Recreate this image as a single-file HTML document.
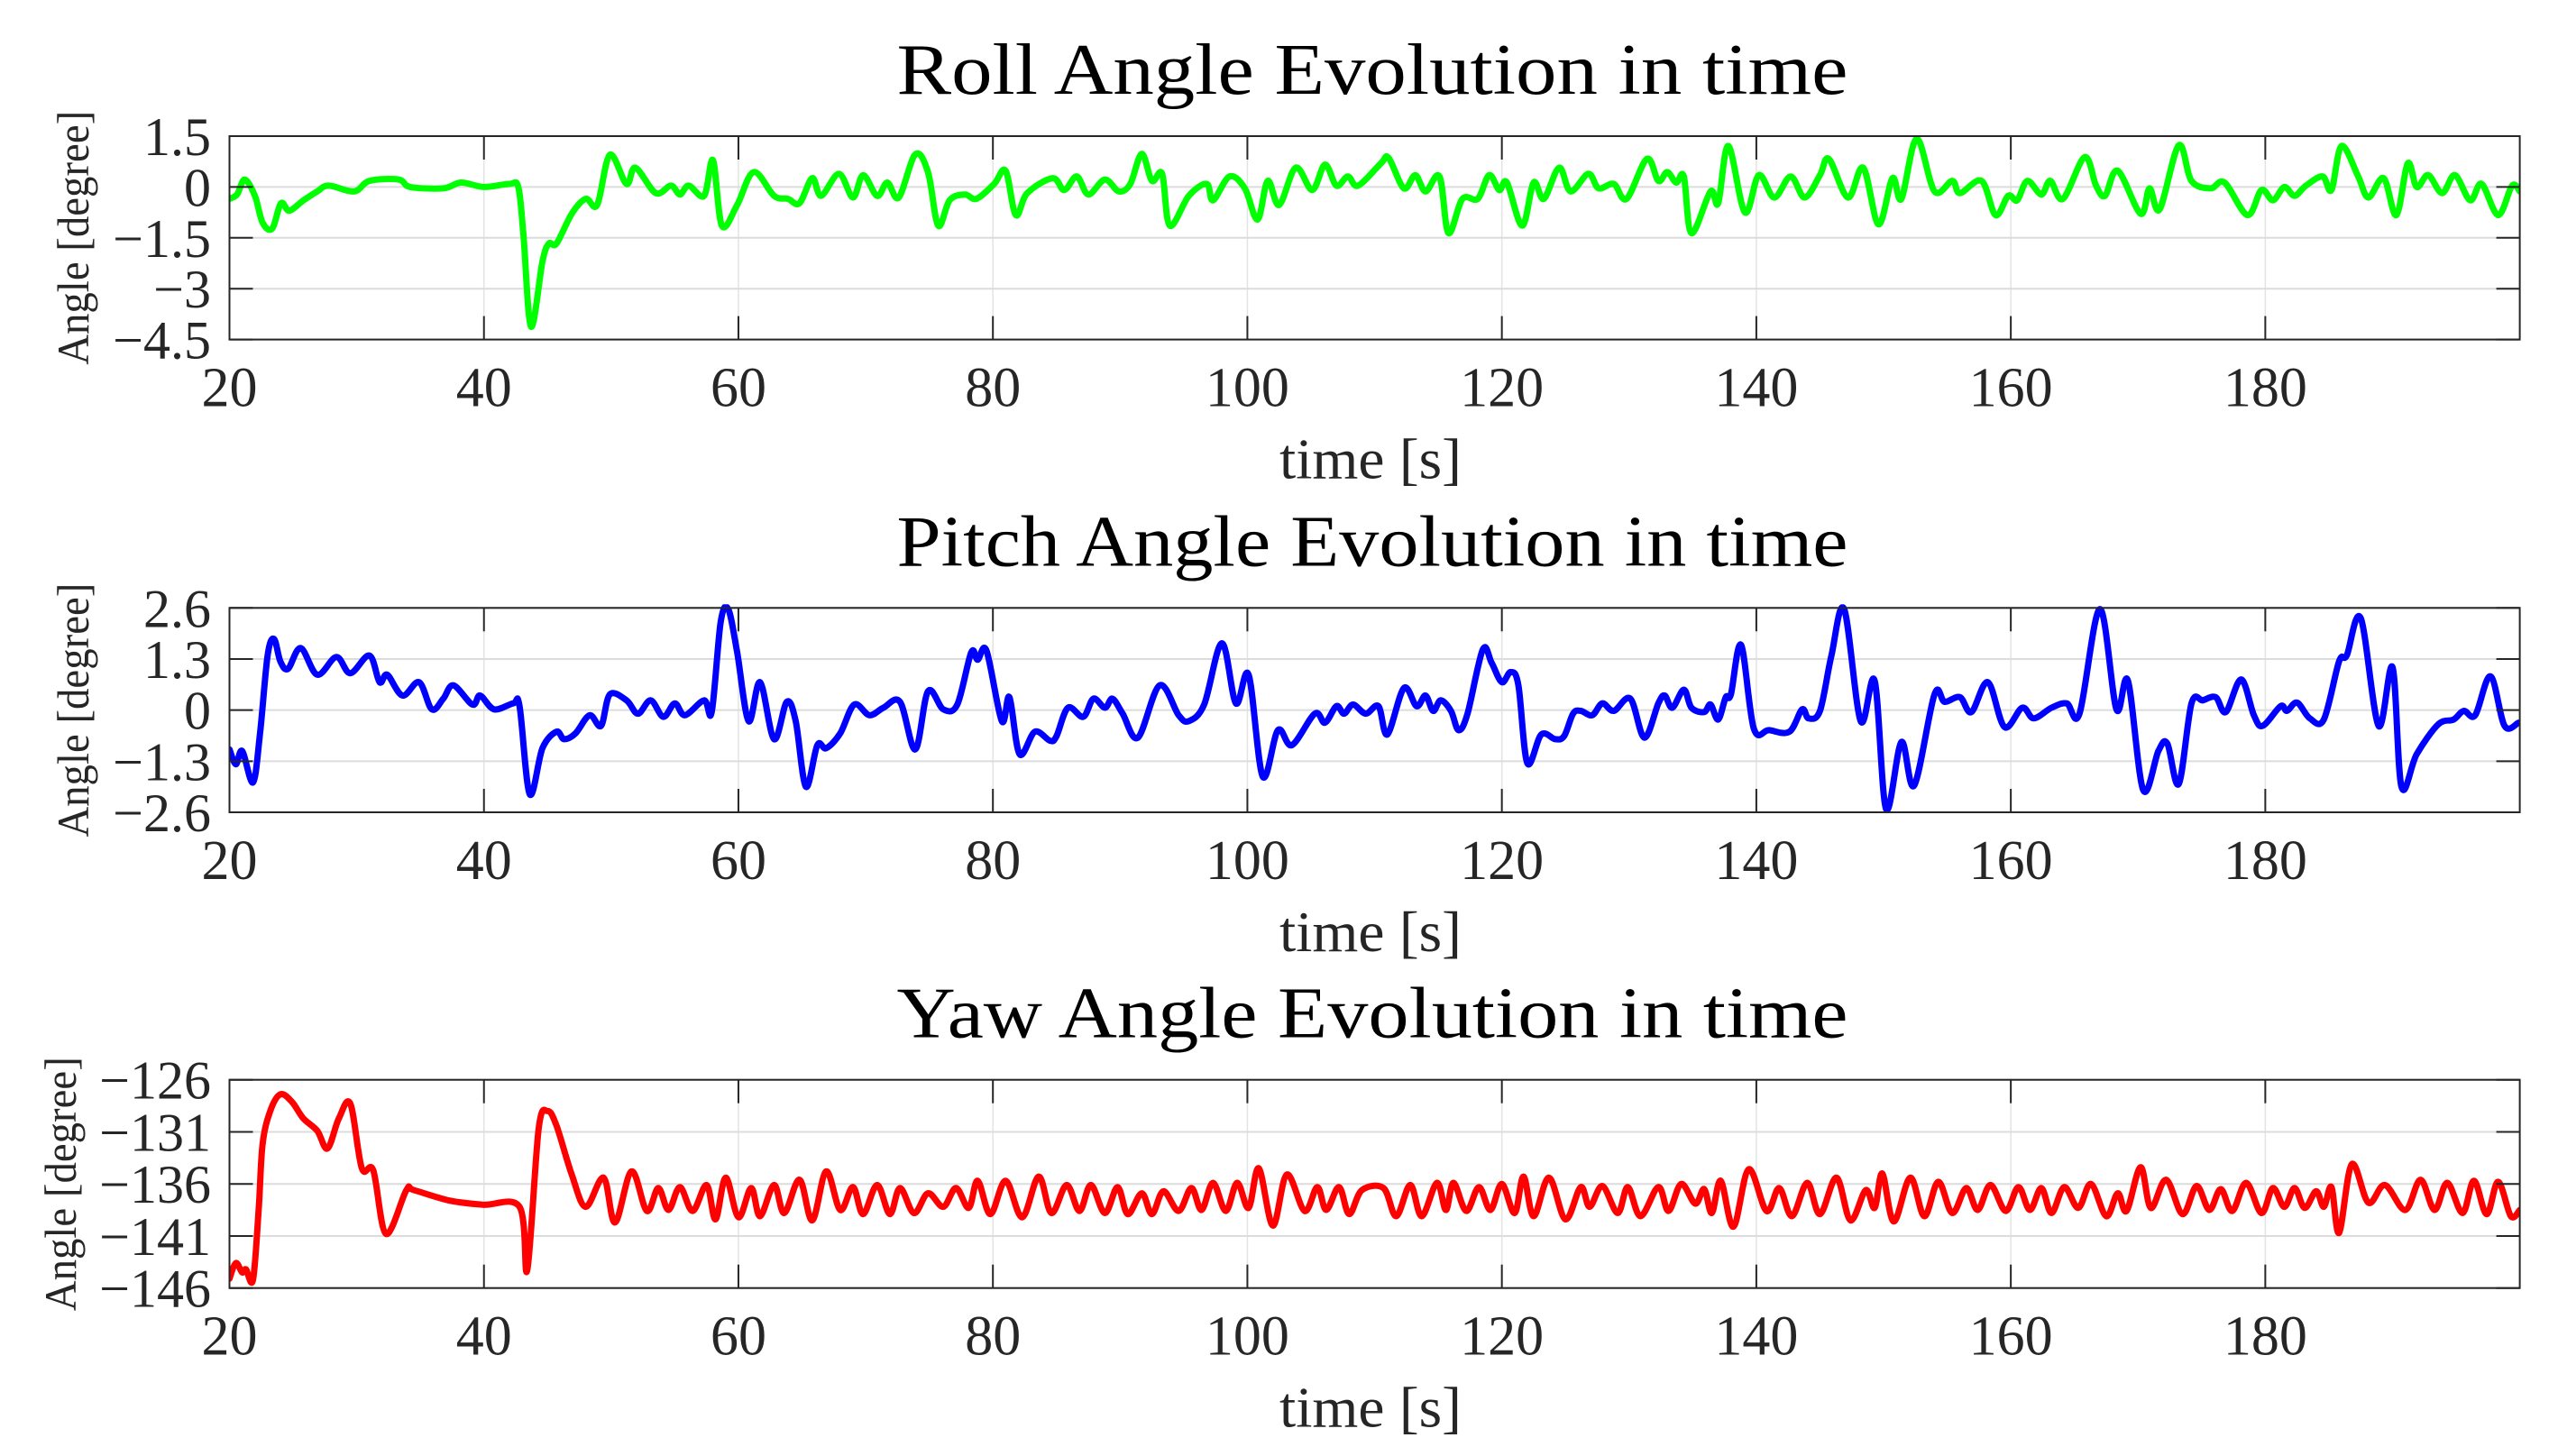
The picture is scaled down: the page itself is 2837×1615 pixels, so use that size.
<!DOCTYPE html>
<html><head><meta charset="utf-8"><style>
html,body{margin:0;padding:0;background:#fff;}
svg{display:block;}
text{font-family:"Liberation Serif",serif;fill:#262626;}
</style></head><body>
<svg id="fig" width="2837" height="1615" viewBox="0 0 2837 1615" xmlns="http://www.w3.org/2000/svg"></svg>
<script>
// ---- data ----
const rollT=[20,20.6,21.2,22,22.6,23.35,24.05,24.7,25.8,26.9,27.8,29.8,31,33.3,34.2,36.8,38.2,40,42,42.7,43.1,43.7,44.6,45.1,45.7,46.9,48,48.9,49.9,51.2,51.9,53.5,54.7,55.4,56.1,57.3,58,58.7,59.9,61.2,62.8,63.9,64.8,65.8,66.5,67.9,69,69.8,70.9,71.7,72.6,73.9,74.9,75.7,76.6,77.8,78.7,80.1,81,81.8,82.7,84.7,85.6,86.6,87.5,88.8,89.9,90.8,91.7,92.5,93.3,93.9,95.4,96.8,97.3,98.6,99.8,100.8,101.6,102.5,103.8,105.1,106.1,107,107.9,108.7,110.5,111.1,112.3,113.2,114,115.1,115.8,116.9,118.1,119,119.8,120.4,121.6,122.5,123.3,124.5,125.4,126.8,127.6,128.8,129.8,131.4,132.3,133,133.7,134.3,134.9,136.4,137,137.8,139.1,140.2,141.4,142.7,143.8,145,145.7,147.2,148.4,149.6,150.7,151.4,152.6,154,155.4,156,157.7,158.8,159.8,160.5,161.3,162.4,163.1,164.1,165.8,166.7,167.4,168.4,170.2,170.9,171.7,173.2,174.2,175.7,176.8,178.6,179.7,180.6,181.5,182.3,183.2,184.5,185.2,186,187.3,188.1,189.3,190.3,191.2,191.9,192.8,193.9,194.9,196.1,197,198.3,199.4,200];
const rollV=[-0.35,-0.22,0.22,-0.26,-1.05,-1.23,-0.48,-0.7,-0.4,-0.13,0.04,-0.13,0.18,0.22,0,-0.04,0.13,0,0.09,0,-1.4,-4.12,-2.2,-1.67,-1.67,-0.79,-0.35,-0.53,0.95,0.09,0.57,-0.18,0.04,-0.22,0.04,-0.26,0.79,-1.14,-0.53,0.44,-0.26,-0.35,-0.48,0.26,-0.26,0.39,-0.31,0.35,-0.26,0.13,-0.31,0.96,0.44,-1.14,-0.39,-0.22,-0.35,0.09,0.48,-0.83,-0.18,0.26,-0.09,0.31,-0.22,0.22,-0.13,0.09,0.98,0.18,0.39,-1.14,-0.26,0.09,-0.39,0.31,-0.04,-0.96,0.18,-0.53,0.57,-0.09,0.66,0.04,0.31,0.04,0.7,0.86,-0.04,0.35,-0.13,0.31,-1.36,-0.35,-0.35,0.35,-0.09,0.13,-1.14,0.13,-0.35,0.57,-0.13,0.39,-0.04,0.09,-0.35,0.83,0.18,0.44,0.13,0.31,-1.36,-0.13,-0.48,1.21,-0.75,0.35,-0.31,0.31,-0.31,0.35,0.83,-0.31,0.57,-1.1,0.26,-0.35,1.42,-0.13,0.18,-0.18,0.18,-0.83,-0.26,-0.39,0.18,-0.22,0.18,-0.35,0.88,0.04,-0.26,0.48,-0.79,-0.04,-0.66,1.23,0.18,-0.04,0.13,-0.83,-0.09,-0.39,0,-0.26,0.04,0.31,-0.09,1.21,0.31,-0.31,0.26,-0.83,0.7,0,0.35,-0.18,0.35,-0.39,0.09,-0.83,0.04,-0.13];
const pitchT=[20,20.5,21,21.85,22.4,23,23.5,24,24.6,25.6,26.9,28.4,29.5,31,31.8,32.4,33.6,34.9,35.9,36.8,37.6,39.1,39.7,40.8,42.3,42.8,43.6,44.6,45.7,46.3,47.2,48.3,49.2,49.9,51.2,52.1,53.1,54.1,55,55.8,57.3,57.9,58.6,59.2,59.9,60.8,61.7,62.8,63.8,64.5,65.3,66.2,66.9,68,69.1,70.3,71.4,72.7,73.9,74.9,76.1,77.2,78.3,78.8,79.5,80.7,81.3,82.1,83.3,84.5,85,85.9,87.1,87.9,88.8,89.4,90.2,91.4,93.1,94.6,95.4,96.6,98,99.1,100.1,101.2,102.4,103.5,105.3,106.1,107,107.6,108.3,109.3,110.3,111,112.3,113.3,114,114.6,115.2,116,116.6,117.3,118.5,119.2,120,120.7,121.3,122,123.1,124.2,124.9,125.6,126.2,127.1,127.9,128.8,130.1,131.2,132.3,132.8,133.4,134.3,134.9,135.9,136.4,137,137.6,138,138.8,139.8,141,142.6,143.6,144.1,145,145.9,146.9,148.2,149.3,150.2,151.4,152.4,154,154.8,156,156.9,158.2,159.5,160.9,161.8,163.2,164.4,165.4,167,168.3,169.2,170.4,171.6,172.3,173.2,174.2,175.1,176.1,176.9,178.1,179.1,179.8,181.2,181.7,182.5,183.5,184.6,185.8,186.4,187.5,188.9,190,190.7,191.9,193.6,194.8,195.6,196.5,197.7,198.8,199.9];
const pitchV=[-1.0,-1.38,-1.04,-1.84,-0.59,1.39,1.81,1.24,1.05,1.58,0.9,1.35,0.94,1.39,0.71,0.9,0.37,0.71,0.02,0.29,0.63,0.14,0.37,0.02,0.17,0.1,-2.14,-0.97,-0.55,-0.74,-0.59,-0.13,-0.4,0.4,0.25,-0.09,0.25,-0.17,0.17,-0.13,0.25,-0.05,2.23,2.57,1.47,-0.28,0.71,-0.74,0.21,-0.28,-1.95,-0.89,-0.97,-0.59,0.14,-0.13,0.06,0.21,-1.0,0.48,0.02,0.14,1.47,1.28,1.51,-0.28,0.33,-1.12,-0.55,-0.78,-0.66,0.06,-0.17,0.29,0.06,0.29,-0.09,-0.7,0.63,-0.13,-0.28,0.14,1.7,0.17,0.9,-1.69,-0.51,-0.89,-0.09,-0.32,0.1,-0.09,0.14,-0.09,0.1,-0.62,0.56,0.1,0.37,-0.02,0.25,-0.02,-0.51,-0.09,1.54,1.2,0.71,0.97,0.63,-1.35,-0.62,-0.74,-0.66,-0.09,-0.02,-0.13,0.17,-0.02,0.29,-0.7,0.17,0.37,0.06,0.52,0.06,-0.05,0.14,-0.24,0.33,0.4,1.66,-0.47,-0.51,-0.55,0.02,-0.21,-0.02,1.39,2.57,-0.28,0.75,-2.52,-0.81,-1.92,0.4,0.21,0.33,-0.05,0.71,-0.43,0.06,-0.21,0.06,0.17,-0.09,2.57,0.02,0.75,-2.03,-1.04,-0.85,-1.88,0.17,0.25,0.33,-0.05,0.78,-0.13,-0.4,0.1,-0.02,0.19,-0.21,-0.24,1.24,1.39,2.34,-0.4,1.09,-1.95,-1.12,-0.36,-0.24,-0.02,-0.13,0.86,-0.4,-0.32];
const yawT=[20,20.5,21,21.3,21.85,22.3,22.6,23.2,24,24.9,25.8,26.9,27.7,28.6,29.5,30.4,31.3,32.3,33.9,34.5,37.3,39.9,42.8,43.4,44.3,45,45.7,46.9,48,49.4,50.3,51.6,52.8,53.7,54.5,55.4,56.4,57.5,58.2,59,60,61,61.7,62.8,63.6,64.8,65.8,66.9,68,69,69.8,70.9,71.9,72.7,73.8,74.9,76.1,77.1,78.1,78.8,79.8,81,82.3,83.6,84.6,85.8,86.8,87.7,88.8,89.8,90.6,91.7,92.5,93.4,94.6,95.6,96.4,97.3,98.3,99.2,100.1,100.9,102,103.1,104.5,105.5,106.2,107.2,108,109,110.7,111.7,112.8,113.7,114.9,115.6,116.2,117.2,118.2,119.1,120,121,121.7,122.5,123.7,125,126.2,126.9,127.9,129.1,129.9,130.9,132.3,133.1,134.1,135.2,135.9,136.5,137.2,138.2,139.4,140.8,141.8,142.8,144,145,146.3,147.4,148.6,149.3,149.9,150.8,152.1,153.2,154.3,155.4,156.5,157.4,158.4,159.6,160.6,161.5,162.4,163.2,164.2,165.3,166.3,167.5,168.4,169.1,170.2,171,172.2,173.5,174.6,175.6,176.5,177.4,178.5,179.7,180.6,181.5,182.3,183.1,184,184.6,185.2,185.8,186.8,188.1,189.4,191,192.2,193.3,194.3,195.5,196.4,197.4,198.3,199.3,200];
const yawV=[-145.1,-143.6,-144.5,-144.2,-145.2,-138.3,-132.2,-129,-127.4,-128.1,-129.7,-130.9,-132.6,-129.7,-128.3,-134.5,-134.7,-140.8,-136.6,-136.6,-137.6,-138,-138.2,-144.3,-130.7,-129,-130.4,-135.1,-138.2,-135.4,-139.7,-134.8,-138.6,-136.4,-138.5,-136.3,-138.6,-136.1,-139.4,-135.4,-139.2,-136.4,-139.1,-136.1,-138.8,-135.6,-139.5,-134.8,-138.5,-136.3,-138.9,-136.1,-138.9,-136.4,-138.8,-136.9,-138.2,-136.4,-138.3,-135.7,-138.9,-135.7,-139.2,-135.3,-138.8,-136.1,-138.6,-136.1,-138.8,-136.3,-138.9,-136.9,-138.9,-136.7,-138.6,-136.4,-138.5,-135.9,-138.6,-135.9,-138.3,-134.5,-140,-135.1,-138.6,-136.3,-138.5,-136.3,-138.9,-136.6,-136.4,-139.1,-136.1,-139.1,-135.9,-138.5,-135.9,-138.6,-136.3,-138.5,-136,-138.8,-135.3,-139.1,-135.4,-139.4,-136.3,-138.2,-136.2,-138.8,-136.3,-139.1,-136.3,-138.6,-136,-137.9,-136.5,-138.8,-135.7,-140.1,-134.6,-138.6,-136.4,-139.1,-135.9,-138.9,-135.4,-139.5,-136.6,-138.3,-135,-139.6,-135.4,-139.1,-135.8,-138.8,-136.4,-138.5,-136.1,-138.6,-136.3,-138.5,-136.4,-138.8,-136.3,-138.3,-136,-139.1,-136.9,-138.6,-134.4,-138.3,-135.6,-138.9,-136.2,-138.5,-136.5,-138.6,-135.9,-138.8,-136.4,-138.2,-136.4,-138.3,-136.7,-138.2,-136.3,-140.7,-134.1,-137.8,-136.1,-138.5,-135.6,-138.5,-135.9,-138.8,-135.7,-138.9,-135.8,-139.1,-138.5];
const xTicks=[20,40,60,80,100,120,140,160,180];
const rollTicks=[1.5,0,-1.5,-3,-4.5];
const pitchTicks=[2.6,1.3,0,-1.3,-2.6];
const yawTicks=[-126,-131,-136,-141,-146];
const titles=["Roll Angle Evolution in time","Pitch Angle Evolution in time","Yaw Angle Evolution in time"];

const NS="http://www.w3.org/2000/svg";
const svg=document.getElementById('fig');
function mk(tag,attrs,parent){const e=document.createElementNS(NS,tag);for(const k in attrs)e.setAttribute(k,attrs[k]);(parent||svg).appendChild(e);return e;}
const L=254.5,R=2794.6;
const panels=[
 {key:'roll',top:151,h:225.6,ymin:-4.5,ymax:1.5,ticks:rollTicks,t:rollT,v:rollV,color:'#00ff00',ylx:98},
 {key:'pitch',top:674.3,h:226.7,ymin:-2.6,ymax:2.6,ticks:pitchTicks,t:pitchT,v:pitchV,color:'#0000ff',ylx:98},
 {key:'yaw',top:1197.7,h:231,ymin:-146,ymax:-126,ticks:yawTicks,t:yawT,v:yawV,color:'#ff0000',ylx:84}
];
function fmt(v){return v<0?'\u2212'+String(-v):String(v);}
function smoothPath(P){
 let d='M'+P[0][0].toFixed(1)+','+P[0][1].toFixed(1);
 for(let k=0;k<P.length-1;k++){
  const p0=P[Math.max(0,k-1)],p1=P[k],p2=P[k+1],p3=P[Math.min(P.length-1,k+2)];
  const c1=[p1[0]+(p2[0]-p0[0])/6,p1[1]+(p2[1]-p0[1])/6];
  const c2=[p2[0]-(p3[0]-p1[0])/6,p2[1]-(p3[1]-p1[1])/6];
  d+=' C'+c1[0].toFixed(1)+','+c1[1].toFixed(1)+' '+c2[0].toFixed(1)+','+c2[1].toFixed(1)+' '+p2[0].toFixed(1)+','+p2[1].toFixed(1);
 }
 return d;
}
panels.forEach((p,i)=>{
 const g=mk('g',{});
 
 
 const xs=t=>L+(t-20)/(200-20)*(R-L);
 const ys=v=>p.top+(p.ymax-v)/(p.ymax-p.ymin)*p.h;
 const B=p.top+p.h;
 xTicks.forEach(t=>{const l=mk('line',{x1:xs(t),x2:xs(t),y1:p.top,y2:B,stroke:'#e3e3e3','stroke-width':1.5},g);
  });
 p.ticks.forEach(v=>{const l=mk('line',{x1:L,x2:R,y1:ys(v),y2:ys(v),stroke:'#dcdcdc','stroke-width':2},g);
  });
 const P=p.t.map((t,k)=>[xs(t),ys(p.v[k])]);
 const cp=mk('clipPath',{id:'cp'+i},g);mk('rect',{x:L,y:p.top-4,width:R-L,height:p.h+8},cp);
 const line=mk('path',{d:smoothPath(P),fill:'none',stroke:p.color,'stroke-width':7,'stroke-linejoin':'round','stroke-linecap':'round','clip-path':'url(#cp'+i+')'},g);
 
 
 xTicks.forEach(t=>{
  mk('line',{x1:xs(t),x2:xs(t),y1:B,y2:B-26,stroke:'#262626','stroke-width':2},g);
  mk('line',{x1:xs(t),x2:xs(t),y1:p.top,y2:p.top+26,stroke:'#262626','stroke-width':2},g);
  const tx=mk('text',{x:xs(t),y:B+74,'text-anchor':'middle','font-size':62},g);tx.textContent=String(t);
  
 });
 p.ticks.forEach(v=>{
  mk('line',{x1:L,x2:L+26,y1:ys(v),y2:ys(v),stroke:'#262626','stroke-width':2},g);
  mk('line',{x1:R,x2:R-26,y1:ys(v),y2:ys(v),stroke:'#262626','stroke-width':2},g);
  const tx=mk('text',{x:234,y:ys(v)+21,'text-anchor':'end','font-size':60},g);tx.textContent=fmt(v);
  
 });
 const box=mk('rect',{x:L,y:p.top,width:R-L,height:p.h,fill:'none',stroke:'#262626','stroke-width':2},g);
 
 const ti=mk('text',{x:1522,y:p.top-47,'text-anchor':'middle','font-size':80,textLength:1055,lengthAdjust:'spacingAndGlyphs',style:'fill:#000'},g);
 ti.textContent=titles[i];
 
 const xl=mk('text',{x:1520,y:B+154,'text-anchor':'middle','font-size':64,textLength:202,lengthAdjust:'spacingAndGlyphs'},g);
 xl.textContent='time [s]';
 
 const cy=p.top+p.h/2;
 const yl=mk('text',{x:0,y:0,'text-anchor':'middle','font-size':50,textLength:282,lengthAdjust:'spacingAndGlyphs',transform:'translate('+p.ylx+','+cy+') rotate(-90)'},g);
 yl.textContent='Angle [degree]';
 
});
</script>
</body></html>
